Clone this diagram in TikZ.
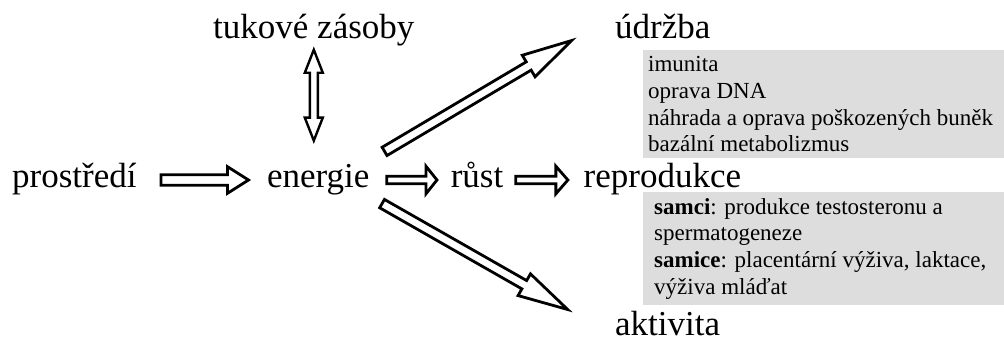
\documentclass[tikz,border=0pt]{standalone}
\usepackage{fontspec}
\setmainfont{Liberation Serif}
\usepackage{tikz}
\usetikzlibrary{positioning, calc}

\definecolor{boxgray}{RGB}{221,221,221}

% hollow block arrow: from, to, half shaft, half head, head length
\newcommand{\fatarrow}[5]{%
  \coordinate (fat-b) at ($(#2)!#5!(#1)$);
  \draw[fat] ($(#1)!#3!90:(#2)$) -- ($(fat-b)!#3!90:(#2)$) -- ($(fat-b)!#4!90:(#2)$) -- (#2)
    -- ($(fat-b)!#4!-90:(#2)$) -- ($(fat-b)!#3!-90:(#2)$) -- ($(#1)!#3!-90:(#2)$) -- cycle;}

% same with a head at both ends
\newcommand{\fatdarrow}[5]{%
  \coordinate (fat-a) at ($(#1)!#5!(#2)$);
  \coordinate (fat-b) at ($(#2)!#5!(#1)$);
  \draw[fat, line width=2.4pt] (#1) -- ($(fat-a)!#4!90:(#2)$) -- ($(fat-a)!#3!90:(#2)$)
    -- ($(fat-b)!#3!90:(#2)$) -- ($(fat-b)!#4!90:(#2)$) -- (#2)
    -- ($(fat-b)!#4!-90:(#2)$) -- ($(fat-b)!#3!-90:(#2)$)
    -- ($(fat-a)!#3!-90:(#2)$) -- ($(fat-a)!#4!-90:(#2)$) -- cycle;}

\begin{document}
\begin{tikzpicture}[
    x=1pt, y=-1pt,
    big/.style={inner sep=0pt, font=\fontsize{35}{42}\selectfont},
    info/.style={fill=boxgray, anchor=north west, align=flush left, inner ysep=0pt, text width=362pt, font=\fontsize{23}{26.6}\selectfont},
    fat/.style={draw, line width=2.8pt, line join=miter, fill=white}
]
\useasboundingbox (0,0) rectangle (1004,341);

% main row
\node[big, anchor=base west] (prost) at (12,187) {prostředí};
\node[big, base right=130pt of prost] (ene) {energie};
\node[big, base right=81pt of ene] (rust) {růst};
\node[big, base right=80pt of rust] (repro) {reprodukce};

% the other ends
\node[big, anchor=base west] (tuk) at (213,38) {tukové zásoby};
\node[big, anchor=base west] (udr) at (615,38) {údržba};
\node[big, anchor=base west] (akt) at (615,335) {aktivita};

% grey boxes
\node[info, inner xsep=5pt, minimum height=108pt] (udrbox) at (643,50)
    {imunita\\oprava DNA\\náhrada a oprava poškozených buněk\\bazální metabolizmus};
\node[info, inner xsep=11pt, minimum height=113pt] (reprobox) at (643,192)
    {\textbf{samci}: produkce testosteronu a\\spermatogeneze\\\textbf{samice}: placentární výživa, laktace,\\výživa mláďat};

% arrow ends
\coordinate (prost-out) at ([xshift=24.2pt, yshift=7pt]prost.base east);
\coordinate (ene-in) at ([xshift=-18.3pt, yshift=7pt]ene.base west);
\coordinate (ene-out) at ([xshift=17.2pt, yshift=7pt]ene.base east);
\coordinate (rust-in) at ([xshift=-13.6pt, yshift=7pt]rust.base west);
\coordinate (rust-out) at ([xshift=12.2pt, yshift=7pt]rust.base east);
\coordinate (repro-in) at ([xshift=-15.6pt, yshift=7pt]repro.base west);
\coordinate (tuk-in) at ([yshift=-4pt]tuk.south);
\coordinate (tuk-out) at ([yshift=23pt]tuk.south |- ene.north);
\coordinate (udr-out) at ([xshift=15pt, yshift=35.6pt]ene.base east);
\coordinate (udr-in) at ([xshift=-43.3pt, yshift=-2.5pt]udr.base west);
\coordinate (akt-out) at ([xshift=12.5pt, yshift=-16.6pt]ene.base east);
\coordinate (akt-in) at ([xshift=-47.3pt, yshift=25.5pt]akt.base west);

% arrows
\fatarrow{prost-out}{ene-in}{5.3pt}{13.3pt}{21pt}
\fatarrow{ene-out}{rust-in}{3.8pt}{13.8pt}{11pt}
\fatarrow{rust-out}{repro-in}{3.8pt}{13.8pt}{12pt}
\fatarrow{udr-out}{udr-in}{4.8pt}{12.5pt}{50pt}
\fatarrow{akt-out}{akt-in}{4.8pt}{12.5pt}{50pt}
\fatdarrow{tuk-in}{tuk-out}{4pt}{9pt}{23pt}

\end{tikzpicture}
\end{document}
